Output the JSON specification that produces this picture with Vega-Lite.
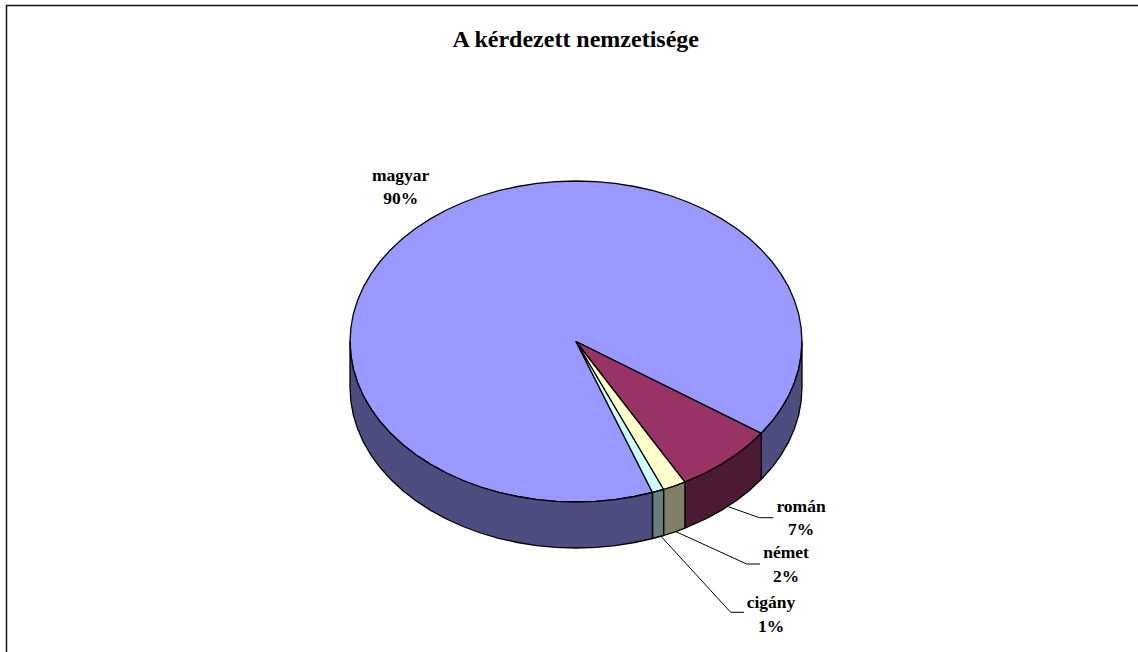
{"$schema":"https://vega.github.io/schema/vega-lite/v6.json","autosize":{"type":"none"},"width":1138,"height":652,"padding":0,"background":"white","view":{"stroke":null},
"config":{"axis":{"title":null}},
"datasets":{
"slices":[
{"p":"magyar","i":0,"x":576,"y":341.5},{"p":"magyar","i":1,"x":652.5,"y":492.5},{"p":"magyar","i":2,"x":634.5,"y":496.5},{"p":"magyar","i":3,"x":615.2,"y":499.6},{"p":"magyar","i":4,"x":595.7,"y":501.4},{"p":"magyar","i":5,"x":576,"y":502},{"p":"magyar","i":6,"x":556.3,"y":501.4},{"p":"magyar","i":7,"x":536.8,"y":499.6},{"p":"magyar","i":8,"x":517.5,"y":496.5},{"p":"magyar","i":9,"x":498.7,"y":492.3},{"p":"magyar","i":10,"x":480.5,"y":487},{"p":"magyar","i":11,"x":463,"y":480.5},{"p":"magyar","i":12,"x":446.4,"y":473},{"p":"magyar","i":13,"x":430.7,"y":464.4},{"p":"magyar","i":14,"x":416.2,"y":455},{"p":"magyar","i":15,"x":402.9,"y":444.7},{"p":"magyar","i":16,"x":390.9,"y":433.6},{"p":"magyar","i":17,"x":380.3,"y":421.8},{"p":"magyar","i":18,"x":371.2,"y":409.3},{"p":"magyar","i":19,"x":363.6,"y":396.4},{"p":"magyar","i":20,"x":357.7,"y":383},{"p":"magyar","i":21,"x":353.4,"y":369.4},{"p":"magyar","i":22,"x":350.9,"y":355.5},{"p":"magyar","i":23,"x":350,"y":341.5},{"p":"magyar","i":24,"x":350.9,"y":327.5},{"p":"magyar","i":25,"x":353.4,"y":313.6},{"p":"magyar","i":26,"x":357.7,"y":300},{"p":"magyar","i":27,"x":363.6,"y":286.6},{"p":"magyar","i":28,"x":371.2,"y":273.7},{"p":"magyar","i":29,"x":380.3,"y":261.2},{"p":"magyar","i":30,"x":390.9,"y":249.4},{"p":"magyar","i":31,"x":402.9,"y":238.3},{"p":"magyar","i":32,"x":416.2,"y":228},{"p":"magyar","i":33,"x":430.7,"y":218.6},{"p":"magyar","i":34,"x":446.4,"y":210},{"p":"magyar","i":35,"x":463,"y":202.5},{"p":"magyar","i":36,"x":480.5,"y":196},{"p":"magyar","i":37,"x":498.7,"y":190.7},{"p":"magyar","i":38,"x":517.5,"y":186.5},{"p":"magyar","i":39,"x":536.8,"y":183.4},{"p":"magyar","i":40,"x":556.3,"y":181.6},{"p":"magyar","i":41,"x":576,"y":181},{"p":"magyar","i":42,"x":595.7,"y":181.6},{"p":"magyar","i":43,"x":615.2,"y":183.4},{"p":"magyar","i":44,"x":634.5,"y":186.5},{"p":"magyar","i":45,"x":653.3,"y":190.7},{"p":"magyar","i":46,"x":671.5,"y":196},{"p":"magyar","i":47,"x":689,"y":202.5},{"p":"magyar","i":48,"x":705.6,"y":210},{"p":"magyar","i":49,"x":721.3,"y":218.6},{"p":"magyar","i":50,"x":735.8,"y":228},{"p":"magyar","i":51,"x":749.1,"y":238.3},{"p":"magyar","i":52,"x":761.1,"y":249.4},{"p":"magyar","i":53,"x":771.7,"y":261.2},{"p":"magyar","i":54,"x":780.8,"y":273.7},{"p":"magyar","i":55,"x":788.4,"y":286.6},{"p":"magyar","i":56,"x":794.3,"y":300},{"p":"magyar","i":57,"x":798.6,"y":313.6},{"p":"magyar","i":58,"x":801.1,"y":327.5},{"p":"magyar","i":59,"x":802,"y":341.5},{"p":"magyar","i":60,"x":801.1,"y":355.5},{"p":"magyar","i":61,"x":798.6,"y":369.4},{"p":"magyar","i":62,"x":794.3,"y":383},{"p":"magyar","i":63,"x":788.4,"y":396.4},{"p":"magyar","i":64,"x":780.8,"y":409.3},{"p":"magyar","i":65,"x":771.7,"y":421.8},{"p":"magyar","i":66,"x":761.3,"y":433.3},{"p":"magyar","i":67,"x":576,"y":341.5},
{"p":"román","i":0,"x":576,"y":341.5},{"p":"román","i":1,"x":761.3,"y":433.3},{"p":"román","i":2,"x":749.1,"y":444.7},{"p":"román","i":3,"x":735.8,"y":455},{"p":"román","i":4,"x":721.3,"y":464.4},{"p":"román","i":5,"x":705.6,"y":473},{"p":"román","i":6,"x":684.9,"y":482.1},{"p":"román","i":7,"x":576,"y":341.5},
{"p":"német","i":0,"x":576,"y":341.5},{"p":"német","i":1,"x":684.9,"y":482.1},{"p":"német","i":2,"x":675.1,"y":485.8},{"p":"német","i":3,"x":663.6,"y":489.5},{"p":"német","i":4,"x":576,"y":341.5},
{"p":"cigány","i":0,"x":576,"y":341.5},{"p":"cigány","i":1,"x":663.6,"y":489.5},{"p":"cigány","i":2,"x":652.5,"y":492.5},{"p":"cigány","i":3,"x":576,"y":341.5},
{"p":"magyar oldal 1","i":0,"x":802,"y":341.5},{"p":"magyar oldal 1","i":1,"x":801.1,"y":355.5},{"p":"magyar oldal 1","i":2,"x":798.6,"y":369.4},{"p":"magyar oldal 1","i":3,"x":794.3,"y":383},{"p":"magyar oldal 1","i":4,"x":788.4,"y":396.4},{"p":"magyar oldal 1","i":5,"x":780.8,"y":409.3},{"p":"magyar oldal 1","i":6,"x":771.7,"y":421.8},{"p":"magyar oldal 1","i":7,"x":761.3,"y":433.3},{"p":"magyar oldal 1","i":8,"x":761.3,"y":479.3},{"p":"magyar oldal 1","i":9,"x":771.7,"y":467.8},{"p":"magyar oldal 1","i":10,"x":780.8,"y":455.3},{"p":"magyar oldal 1","i":11,"x":788.4,"y":442.4},{"p":"magyar oldal 1","i":12,"x":794.3,"y":429},{"p":"magyar oldal 1","i":13,"x":798.6,"y":415.4},{"p":"magyar oldal 1","i":14,"x":801.1,"y":401.5},{"p":"magyar oldal 1","i":15,"x":802,"y":387.5},{"p":"magyar oldal 1","i":16,"x":802,"y":341.5},
{"p":"román oldal","i":0,"x":761.3,"y":433.3},{"p":"román oldal","i":1,"x":749.1,"y":444.7},{"p":"román oldal","i":2,"x":735.8,"y":455},{"p":"román oldal","i":3,"x":721.3,"y":464.4},{"p":"román oldal","i":4,"x":705.6,"y":473},{"p":"román oldal","i":5,"x":684.9,"y":482.1},{"p":"román oldal","i":6,"x":684.9,"y":528.1},{"p":"román oldal","i":7,"x":705.6,"y":519},{"p":"román oldal","i":8,"x":721.3,"y":510.4},{"p":"román oldal","i":9,"x":735.8,"y":501},{"p":"román oldal","i":10,"x":749.1,"y":490.7},{"p":"román oldal","i":11,"x":761.3,"y":479.3},{"p":"román oldal","i":12,"x":761.3,"y":433.3},
{"p":"német oldal","i":0,"x":684.9,"y":482.1},{"p":"német oldal","i":1,"x":675.1,"y":485.8},{"p":"német oldal","i":2,"x":663.6,"y":489.5},{"p":"német oldal","i":3,"x":663.6,"y":535.5},{"p":"német oldal","i":4,"x":675.1,"y":531.8},{"p":"német oldal","i":5,"x":684.9,"y":528.1},{"p":"német oldal","i":6,"x":684.9,"y":482.1},
{"p":"cigány oldal","i":0,"x":663.6,"y":489.5},{"p":"cigány oldal","i":1,"x":652.5,"y":492.5},{"p":"cigány oldal","i":2,"x":652.5,"y":538.5},{"p":"cigány oldal","i":3,"x":663.6,"y":535.5},{"p":"cigány oldal","i":4,"x":663.6,"y":489.5},
{"p":"magyar oldal 2","i":0,"x":652.5,"y":492.5},{"p":"magyar oldal 2","i":1,"x":634.5,"y":496.5},{"p":"magyar oldal 2","i":2,"x":615.2,"y":499.6},{"p":"magyar oldal 2","i":3,"x":595.7,"y":501.4},{"p":"magyar oldal 2","i":4,"x":576,"y":502},{"p":"magyar oldal 2","i":5,"x":556.3,"y":501.4},{"p":"magyar oldal 2","i":6,"x":536.8,"y":499.6},{"p":"magyar oldal 2","i":7,"x":517.5,"y":496.5},{"p":"magyar oldal 2","i":8,"x":498.7,"y":492.3},{"p":"magyar oldal 2","i":9,"x":480.5,"y":487},{"p":"magyar oldal 2","i":10,"x":463,"y":480.5},{"p":"magyar oldal 2","i":11,"x":446.4,"y":473},{"p":"magyar oldal 2","i":12,"x":430.7,"y":464.4},{"p":"magyar oldal 2","i":13,"x":416.2,"y":455},{"p":"magyar oldal 2","i":14,"x":402.9,"y":444.7},{"p":"magyar oldal 2","i":15,"x":390.9,"y":433.6},{"p":"magyar oldal 2","i":16,"x":380.3,"y":421.8},{"p":"magyar oldal 2","i":17,"x":371.2,"y":409.3},{"p":"magyar oldal 2","i":18,"x":363.6,"y":396.4},{"p":"magyar oldal 2","i":19,"x":357.7,"y":383},{"p":"magyar oldal 2","i":20,"x":353.4,"y":369.4},{"p":"magyar oldal 2","i":21,"x":350.9,"y":355.5},{"p":"magyar oldal 2","i":22,"x":350,"y":341.5},{"p":"magyar oldal 2","i":23,"x":350,"y":387.5},{"p":"magyar oldal 2","i":24,"x":350.9,"y":401.5},{"p":"magyar oldal 2","i":25,"x":353.4,"y":415.4},{"p":"magyar oldal 2","i":26,"x":357.7,"y":429},{"p":"magyar oldal 2","i":27,"x":363.6,"y":442.4},{"p":"magyar oldal 2","i":28,"x":371.2,"y":455.3},{"p":"magyar oldal 2","i":29,"x":380.3,"y":467.8},{"p":"magyar oldal 2","i":30,"x":390.9,"y":479.6},{"p":"magyar oldal 2","i":31,"x":402.9,"y":490.7},{"p":"magyar oldal 2","i":32,"x":416.2,"y":501},{"p":"magyar oldal 2","i":33,"x":430.7,"y":510.4},{"p":"magyar oldal 2","i":34,"x":446.4,"y":519},{"p":"magyar oldal 2","i":35,"x":463,"y":526.5},{"p":"magyar oldal 2","i":36,"x":480.5,"y":533},{"p":"magyar oldal 2","i":37,"x":498.7,"y":538.3},{"p":"magyar oldal 2","i":38,"x":517.5,"y":542.5},{"p":"magyar oldal 2","i":39,"x":536.8,"y":545.6},{"p":"magyar oldal 2","i":40,"x":556.3,"y":547.4},{"p":"magyar oldal 2","i":41,"x":576,"y":548},{"p":"magyar oldal 2","i":42,"x":595.7,"y":547.4},{"p":"magyar oldal 2","i":43,"x":615.2,"y":545.6},{"p":"magyar oldal 2","i":44,"x":634.5,"y":542.5},{"p":"magyar oldal 2","i":45,"x":652.5,"y":538.5},{"p":"magyar oldal 2","i":46,"x":652.5,"y":492.5}
],
"leaders":[
{"n":"román","i":0,"x":728.3,"y":506.7},{"n":"román","i":1,"x":759.3,"y":517.7},{"n":"román","i":2,"x":773.3,"y":517.7},
{"n":"német","i":0,"x":676,"y":531.7},{"n":"német","i":1,"x":746.7,"y":564},{"n":"német","i":2,"x":760,"y":564},
{"n":"cigány","i":0,"x":660.7,"y":536},{"n":"cigány","i":1,"x":730.7,"y":612.3},{"n":"cigány","i":2,"x":744,"y":612.3}
],
"frame":[{"i":0,"x":6.5,"y":652},{"i":1,"x":6.5,"y":5.5},{"i":2,"x":1138,"y":5.5}],
"labels":[
{"name":"magyar","pct":90,"x":400.7,"y":180.7},
{"name":"román","pct":7,"x":801,"y":511.7},
{"name":"német","pct":2,"x":786,"y":558.3},
{"name":"cigány","pct":1,"x":771,"y":608}
],
"title":[{"t":"A kérdezett nemzetisége","x":575.7,"y":46.7}]
},
"encoding":{
"x":{"field":"x","type":"quantitative","scale":{"domain":[0,1138],"nice":false,"zero":false},"axis":null},
"y":{"field":"y","type":"quantitative","scale":{"domain":[652,0],"nice":false,"zero":false},"axis":null}
},
"layer":[
{"data":{"name":"slices"},"mark":{"type":"line","stroke":"#000","strokeWidth":1.3,"strokeJoin":"round","clip":true},
"encoding":{"fill":{"field":"p","type":"nominal","legend":null,"scale":{"domain":["magyar","román","német","cigány","magyar oldal 1","román oldal","német oldal","cigány oldal","magyar oldal 2"],"range":["#9999ff","#993366","#ffffcc","#ccffff","#4d4d80","#4d1a33","#808066","#668080","#4d4d80"]}},"order":{"field":"i","type":"quantitative"}}},
{"data":{"name":"leaders"},"mark":{"type":"line","stroke":"#000","strokeWidth":1},
"encoding":{"detail":{"field":"n"},"order":{"field":"i","type":"quantitative"}}},
{"data":{"name":"frame"},"mark":{"type":"line","stroke":"#111","strokeWidth":1.5},
"encoding":{"order":{"field":"i","type":"quantitative"}}},
{"data":{"name":"labels"},"transform":[{"calculate":"datum.name + '\\n' + datum.pct + '%'","as":"label"}],
"mark":{"type":"text","font":"Liberation Serif","fontWeight":"bold","fontSize":17.5,"align":"center","baseline":"alphabetic","lineBreak":"\n","lineHeight":23.5,"color":"#000"},
"encoding":{"text":{"field":"label"}}},
{"data":{"name":"title"},"mark":{"type":"text","font":"Liberation Serif","fontWeight":"bold","fontSize":24,"align":"center","baseline":"alphabetic","color":"#000"},
"encoding":{"text":{"field":"t"}}}
]}
